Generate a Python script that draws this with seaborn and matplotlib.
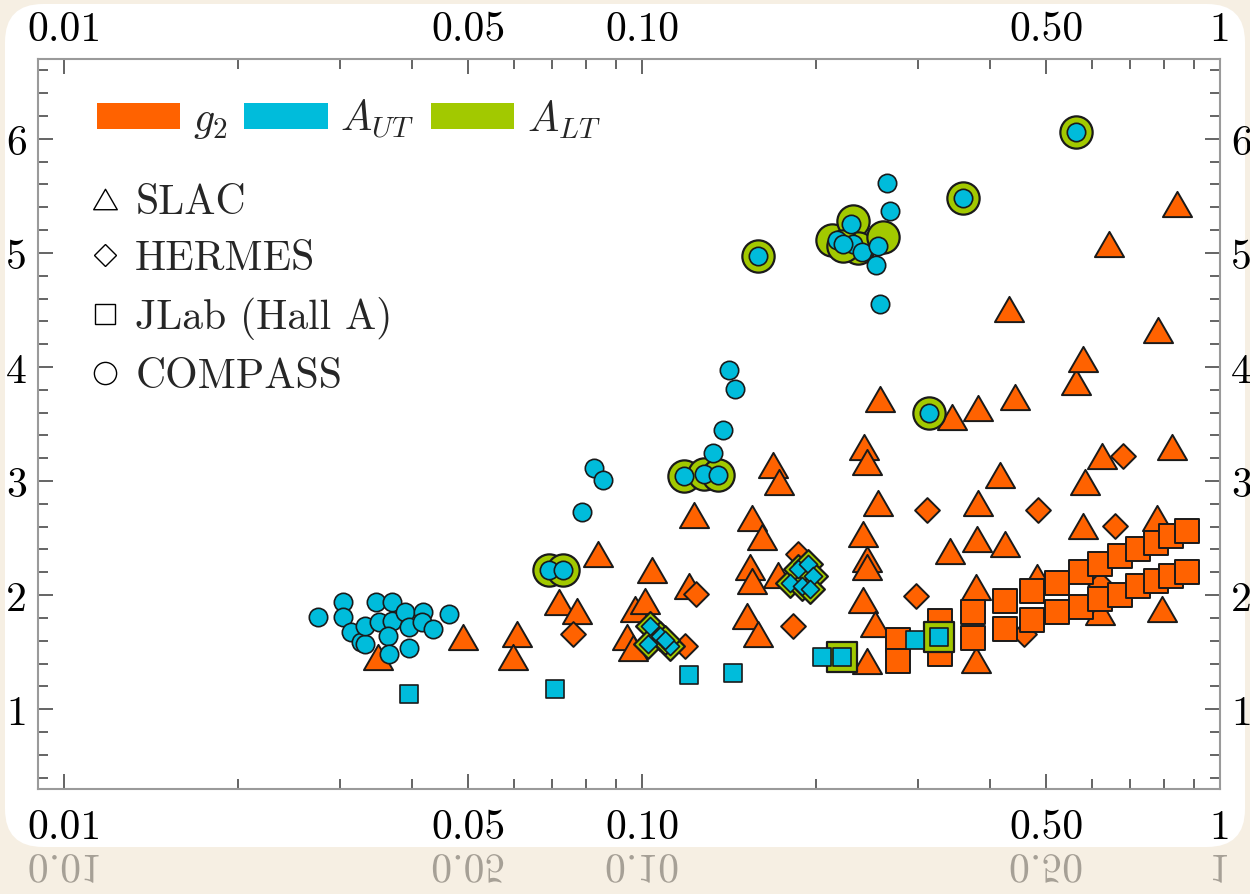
import matplotlib
matplotlib.use("Agg")
import matplotlib.pyplot as plt
import seaborn as sns
import numpy as np
from matplotlib.markers import MarkerStyle
from matplotlib.path import Path
from matplotlib.patches import FancyBboxPatch, PathPatch, Patch
from matplotlib.lines import Line2D
from matplotlib.textpath import TextPath
from matplotlib.font_manager import FontProperties
from matplotlib.transforms import Affine2D
from matplotlib.ticker import FixedLocator, FixedFormatter, NullFormatter, LogLocator, MultipleLocator

# ---- data (x_Bj, Q^2) ----
slac_g2_x = [0.0350, 0.0490, 0.0608, 0.0598, 0.0718, 0.0772, 0.0839, 0.0942, 0.0965, 0.0973,
             0.1012, 0.1040, 0.1206, 0.1230, 0.1519, 0.1537, 0.1550, 0.1550, 0.1587, 0.1613,
             0.1685, 0.1720, 0.1726, 0.241, 0.241, 0.242, 0.245, 0.245, 0.245, 0.245,
             0.253, 0.256, 0.258, 0.341, 0.344, 0.378, 0.378, 0.380, 0.381, 0.381,
             0.416, 0.425, 0.431, 0.442, 0.482, 0.563, 0.579, 0.579, 0.584, 0.620,
             0.625, 0.643, 0.778, 0.781, 0.794, 0.826, 0.843]
slac_g2_q2 = [1.46, 1.63, 1.66, 1.46, 1.94, 1.86, 2.36, 1.63, 1.54, 1.88,
              1.95, 2.22, 2.08, 2.70, 1.82, 2.25, 2.12, 2.68, 1.66, 2.51,
              3.14, 2.18, 2.99, 2.54, 1.96, 3.30, 3.17, 2.32, 2.25, 1.42,
              1.75, 2.81, 3.72, 2.39, 3.56, 2.07, 1.43, 2.49, 2.81, 3.64,
              3.05, 2.45, 4.51, 3.74, 2.16, 3.87, 4.07, 2.61, 2.99, 1.85,
              3.22, 5.08, 2.68, 4.32, 1.88, 3.30, 5.43]

hermes_g2_x = [0.0760, 0.1187, 0.1240, 0.1825, 0.186, 0.298, 0.311, 0.458, 0.484, 0.620, 0.658, 0.680]
hermes_g2_q2 = [1.66, 1.55, 2.01, 1.73, 2.36, 1.99, 2.75, 1.66, 2.75, 2.10, 2.61, 3.22]

jlab_g2_x = [0.2773, 0.2773, 0.3278, 0.3278, 0.3738, 0.3738, 0.425, 0.425, 0.473, 0.473,
             0.522, 0.522, 0.575, 0.575, 0.620, 0.620, 0.671, 0.671, 0.721, 0.721,
             0.775, 0.775, 0.823, 0.823, 0.877, 0.877]
jlab_g2_q2 = [1.61, 1.42, 1.77, 1.48, 1.85, 1.62, 1.95, 1.70, 2.04, 1.78,
              2.11, 1.85, 2.20, 1.90, 2.27, 1.97, 2.34, 2.00, 2.40, 2.08,
              2.46, 2.12, 2.52, 2.17, 2.56, 2.20]

compass_aut_x = [0.0275, 0.0304, 0.0304, 0.0314, 0.0326, 0.0332, 0.0332, 0.0347, 0.0351, 0.0369,
                 0.0369, 0.0364, 0.0365, 0.0389, 0.0395, 0.0395, 0.0418, 0.0416, 0.0435, 0.0464,
                 0.0788, 0.0826, 0.0856, 0.1327, 0.1381, 0.1414, 0.1448, 0.2654, 0.2686, 0.2541,
                 0.2581, 0.069, 0.073, 0.1182, 0.128, 0.1354, 0.1587, 0.2175, 0.230, 0.2317,
                 0.240, 0.2561, 0.223, 0.314, 0.359, 0.563]
compass_aut_q2 = [1.81, 1.94, 1.81, 1.68, 1.59, 1.57, 1.73, 1.94, 1.76, 1.94,
                  1.77, 1.64, 1.48, 1.85, 1.72, 1.54, 1.85, 1.76, 1.70, 1.83,
                  2.73, 3.11, 3.01, 3.25, 3.45, 3.97, 3.81, 5.61, 5.37, 4.89,
                  4.55, 2.22, 2.22, 3.04, 3.06, 3.05, 4.97, 5.11, 5.25, 5.08,
                  5.01, 5.06, 5.08, 3.60, 5.48, 6.06]

compass_alt_x = [0.069, 0.073, 0.1182, 0.128, 0.1354, 0.1587, 0.2132, 0.2317, 0.2364, 0.261,
                 0.223, 0.314, 0.359, 0.563]
compass_alt_q2 = [2.22, 2.22, 3.04, 3.06, 3.05, 4.97, 5.11, 5.28, 5.04, 5.14,
                  5.06, 3.60, 5.48, 6.06]

hermes_aut_x = [0.1032, 0.1074, 0.1024, 0.1118, 0.1096, 0.1804, 0.186, 0.1937, 0.1891, 0.1976, 0.1953]
hermes_aut_q2 = [1.73, 1.64, 1.57, 1.55, 1.61, 2.11, 2.23, 2.27, 2.08, 2.17, 2.05]
hermes_alt_x = hermes_aut_x
hermes_alt_q2 = hermes_aut_q2

jlab_aut_x = [0.0395, 0.0707, 0.1206, 0.1437, 0.2048, 0.2218, 0.2967, 0.3265]
jlab_aut_q2 = [1.13, 1.18, 1.30, 1.32, 1.46, 1.46, 1.61, 1.63]
jlab_alt_x = [0.2218, 0.3265]
jlab_alt_q2 = [1.46, 1.63]

x_ticks = [0.01, 0.05, 0.1, 0.5, 1.0]
x_tick_labels = ["0.01", "0.05", "0.10", "0.50", "1"]
series_labels = [r"$g_2$", r"$A_{UT}$", r"$A_{LT}$"]
experiment_labels = ["SLAC", "HERMES", "JLab (Hall A)", "COMPASS"]

ORANGE = "#ff6200"
CYAN = "#00bcdb"
GREEN = "#a2c900"
EDGE = "#1a1a1a"

sns.set_theme(style="ticks")
plt.rcParams["font.family"] = ["cmr10"]
plt.rcParams["mathtext.fontset"] = "cm"
plt.rcParams["axes.unicode_minus"] = False
plt.rcParams["axes.formatter.use_mathtext"] = False

tri = MarkerStyle(Path([(0, 0.433), (-0.5, -0.433), (0.5, -0.433), (0, 0.433)], closed=True))

fig = plt.figure(figsize=(12.5, 8.95), dpi=100)
fig.patch.set_facecolor("#f6efe3")
panel = FancyBboxPatch((0.05, 0.47), 12.40, 8.43, boxstyle="round,pad=0,rounding_size=0.38",
                       transform=fig.dpi_scale_trans, facecolor="white", edgecolor="none", zorder=0)
fig.add_artist(panel)

ax = fig.add_axes([38 / 1250, 105 / 895, 1182 / 1250, 730 / 895])
ax.set_facecolor("none")
ax.set_xscale("log")
ax.set_xlim(10 ** -2.045, 1.0)
ax.set_ylim(0.3, 6.7)

# g2 (orange)
sns.scatterplot(x=slac_g2_x, y=slac_g2_q2, marker=tri, s=440, color=ORANGE, edgecolor=EDGE, linewidth=1.4, ax=ax)
sns.scatterplot(x=hermes_g2_x, y=hermes_g2_q2, marker="D", s=160, color=ORANGE, edgecolor=EDGE, linewidth=1.4, ax=ax)
sns.scatterplot(x=jlab_g2_x, y=jlab_g2_q2, marker="s", s=300, color=ORANGE, edgecolor=EDGE, linewidth=1.4, ax=ax)
# A_LT (green, behind)
sns.scatterplot(x=compass_alt_x, y=compass_alt_q2, marker="o", s=540, color=GREEN, edgecolor=EDGE, linewidth=1.6, ax=ax)
sns.scatterplot(x=hermes_alt_x, y=hermes_alt_q2, marker="D", s=215, color=GREEN, edgecolor=EDGE, linewidth=1.6, ax=ax)
sns.scatterplot(x=jlab_alt_x, y=jlab_alt_q2, marker="s", s=470, color=GREEN, edgecolor=EDGE, linewidth=1.6, ax=ax)
# A_UT (cyan, on top)
sns.scatterplot(x=compass_aut_x, y=compass_aut_q2, marker="o", s=175, color=CYAN, edgecolor=EDGE, linewidth=1.2, ax=ax)
sns.scatterplot(x=hermes_aut_x, y=hermes_aut_q2, marker="D", s=85, color=CYAN, edgecolor=EDGE, linewidth=1.2, ax=ax)
sns.scatterplot(x=jlab_aut_x, y=jlab_aut_q2, marker="s", s=165, color=CYAN, edgecolor=EDGE, linewidth=1.2, ax=ax)

# axes / ticks
ax.xaxis.set_major_locator(FixedLocator(x_ticks))
ax.xaxis.set_major_formatter(FixedFormatter(x_tick_labels))
ax.xaxis.set_minor_locator(LogLocator(base=10, subs=[2, 3, 4, 6, 7, 8, 9]))
ax.xaxis.set_minor_formatter(NullFormatter())
ax.yaxis.set_major_locator(MultipleLocator(1))
ax.yaxis.set_minor_locator(MultipleLocator(0.2))
ax.tick_params(which="both", direction="in", top=True, right=True, labeltop=True, labelright=True,
               color="#4a4a4a", width=1.2, labelsize=30, labelcolor="black")
ax.tick_params(which="major", length=11)
ax.tick_params(which="minor", length=7)
ax.tick_params(axis="x", pad=14)
ax.tick_params(axis="y", pad=8)
for tk in ax.xaxis.get_major_ticks():
    tk.label2.set_verticalalignment("baseline")
for sp in ax.spines.values():
    sp.set_color("#9a9a9a")
    sp.set_linewidth(1.5)
ax.set_xlabel("")
ax.set_ylabel("")

# legends
color_handles = [Patch(facecolor=c, edgecolor="none") for c in (ORANGE, CYAN, GREEN)]
leg1 = ax.legend(handles=color_handles, labels=series_labels, loc="upper left",
                 bbox_to_anchor=(0.0499, 0.948), ncol=3, frameon=False, fontsize=30,
                 handlelength=2.0, handleheight=0.58, handletextpad=0.3, columnspacing=0.4,
                 borderpad=0, borderaxespad=0)
ax.add_artist(leg1)
shape_handles = [Line2D([], [], ls="none", marker=m, ms=ms, mfc="white", mec="black", mew=1.0)
                 for m, ms in ((tri, 17), ("D", 11.7), ("s", 15), ("o", 16))]
ax.legend(handles=shape_handles, labels=experiment_labels, loc="upper left",
          bbox_to_anchor=(0.0427, 0.829), frameon=False, fontsize=30,
          handlelength=0.8, handletextpad=0.32, labelspacing=0.45,
          borderpad=0, borderaxespad=0)

# faded mirror of the bottom tick labels
fp = FontProperties(family="cmr10")
for val, lab in zip(x_ticks, x_tick_labels):
    tp = TextPath((0, 0), lab, size=30, prop=fp)
    ext = tp.get_extents()
    xd = ax.transData.transform((val, 1.0))[0] / fig.dpi
    tr = Affine2D().translate(-(ext.x0 + ext.width / 2), 0).scale(1 / 72, -1 / 72).translate(xd, 0.39)
    fig.add_artist(PathPatch(tp, transform=tr + fig.dpi_scale_trans, facecolor="#8c867d",
                             edgecolor="none", alpha=0.75))

fig.savefig("out.png", dpi=100, facecolor=fig.get_facecolor())
